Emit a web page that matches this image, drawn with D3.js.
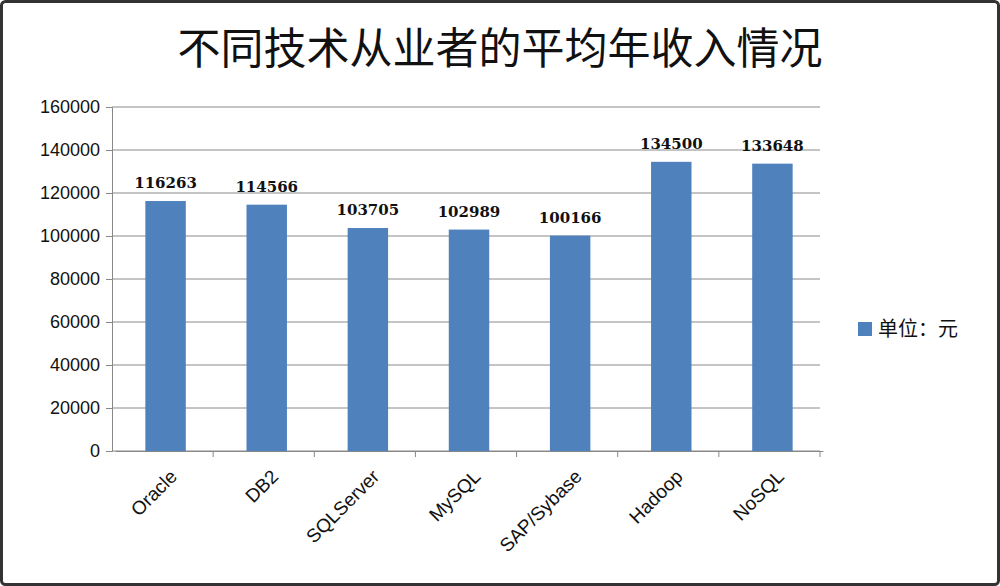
<!DOCTYPE html><html><head><meta charset="utf-8"><script src="https://cdn.jsdelivr.net/npm/d3@7"></script>
<style>body{margin:0;background:#fff}</style></head><body><svg id="c" width="1000" height="586"></svg><script>
const categories=["Oracle","DB2","SQLServer","MySQL","SAP/Sybase","Hadoop","NoSQL"];
const values=[116263,114566,103705,102989,100166,134500,133648];
const yTicks=[0,20000,40000,60000,80000,100000,120000,140000,160000];
const title="不同技术从业者的平均年收入情况";
const legendLabel="单位：元";
const svg=d3.select("#c");
svg.append("rect").attr("x",1.5).attr("y",1.5).attr("width",997).attr("height",583).attr("rx",4).attr("fill","#fff").attr("stroke","#333").attr("stroke-width",3);
const x=d3.scaleBand().domain(categories).range([115,823]).paddingInner(0.6).paddingOuter(0.3);
const y=d3.scaleLinear().domain([0,160000]).range([451,107]);
const g=svg.append("g");
yTicks.forEach(t=>g.append("line").attr("x1",112).attr("x2",820).attr("y1",y(t)).attr("y2",y(t)).attr("stroke","#8a8a8a").attr("stroke-width",1));
const ya=svg.append("g").attr("transform","translate(112,0)").call(d3.axisLeft(y).tickValues(yTicks).tickFormat(d3.format("d")).tickSize(6).tickPadding(6));
ya.select(".domain").attr("stroke","#888");ya.selectAll("line").attr("stroke","#888");
ya.selectAll("text").attr("font-family","Liberation Sans, Arial").attr("font-size",18).attr("fill","#111");
const xa=svg.append("g").attr("transform","translate(0,451)").call(d3.axisBottom(x).tickSize(0).tickPadding(0));
xa.select(".domain").attr("stroke","#888");
const bw=(820-112)/7;
categories.forEach((c,i)=>xa.append("line").attr("x1",112+bw*(i+1)).attr("x2",112+bw*(i+1)).attr("y1",0).attr("y2",6).attr("stroke","#888"));
xa.selectAll(".tick text").attr("font-family","Liberation Sans, Arial").attr("font-size",19).attr("fill","#111")
 .attr("text-anchor","end").attr("transform","translate(8,22) rotate(-45)").attr("dy","0.35em");
svg.selectAll(".bar").data(values).enter().append("rect").attr("x",(d,i)=>x(categories[i])).attr("width",x.bandwidth())
 .attr("y",d=>y(d)).attr("height",d=>451-y(d)).attr("fill","#4f81bd");
svg.selectAll(".lbl").data(values).enter().append("text").attr("x",(d,i)=>x(categories[i])+x.bandwidth()/2).attr("y",d=>y(d)-13)
 .attr("text-anchor","middle").attr("font-family","DejaVu Serif").attr("font-weight","bold").attr("font-size",15).attr("fill","#111").text(d=>d);
svg.append("text").attr("x",500).attr("y",64).attr("text-anchor","middle").attr("font-family","Noto Sans CJK SC").attr("font-size",43).attr("fill","#111").text(title);
svg.append("rect").attr("x",858).attr("y",322).attr("width",14).attr("height",14).attr("fill","#4f81bd");
svg.append("text").attr("x",878).attr("y",336).attr("font-family","Noto Sans CJK SC").attr("font-size",20).attr("fill","#111").text(legendLabel);
</script></body></html>
